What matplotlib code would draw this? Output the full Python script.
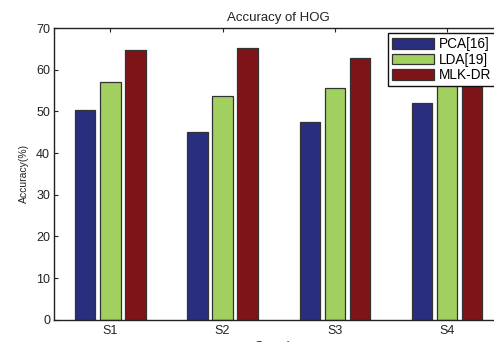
import matplotlib
matplotlib.use("Agg")
import matplotlib.pyplot as plt
import numpy as np

plt.rcParams['font.family'] = ['Liberation Sans', 'DejaVu Sans']

categories = ["S1", "S2", "S3", "S4"]
series_names = ["PCA[16]", "LDA[19]", "MLK-DR"]
pca = [50.4, 45.1, 47.5, 52.1]
lda = [57.1, 53.6, 55.7, 58.0]
mlk = [64.8, 65.1, 62.7, 63.5]
colors = ["#2a2e7e", "#a1cf60", "#7f1418"]

fig = plt.figure(figsize=(4.94, 3.42), dpi=100)
ax = fig.add_axes([0.110, 0.065, 0.908, 0.853])

x = np.arange(1, len(categories) + 1)
width = 0.18
offsets = [-0.223, 0.0, 0.223]
for vals, name, col, off in zip([pca, lda, mlk], series_names, colors, offsets):
    ax.bar(x + off, vals, width, color=col, edgecolor="#333333",
           linewidth=0.9, label=name, zorder=2)

ax.set_xlim(0.5, 4.5)
ax.set_ylim(0, 70)
ax.set_yticks(range(0, 71, 10))
ax.set_xticks(x)
ax.set_xticklabels(categories)
ax.tick_params(axis='both', direction='in', labelsize=9, length=3,
               width=0.8, top=True, right=True, colors="#222222",
               labelcolor="#222222")
ax.tick_params(axis='x', pad=4)
ax.tick_params(axis='y', pad=3)
for s in ax.spines.values():
    s.set_linewidth(1.0)
    s.set_color("#222222")

ax.set_title("Accuracy of HOG", fontsize=9.5, pad=5, color="#222222")
ax.set_ylabel("Accuracy(%)", fontsize=7.5, color="#222222", labelpad=5)
ax.set_xlabel("Samples", fontsize=9, color="#222222", labelpad=3)

leg = ax.legend(loc="upper left", bbox_to_anchor=(388 / 494, 1 - 33 / 342),
                bbox_transform=fig.transFigure, fontsize=9.8, frameon=True,
                fancybox=False, edgecolor="#111111", framealpha=1,
                handlelength=3.1, handleheight=0.85, handletextpad=0.35,
                labelspacing=0.12, borderpad=0.3, borderaxespad=0)
leg.get_frame().set_linewidth(1.0)
leg.set_zorder(5)

fig.savefig("out.png", dpi=100)
